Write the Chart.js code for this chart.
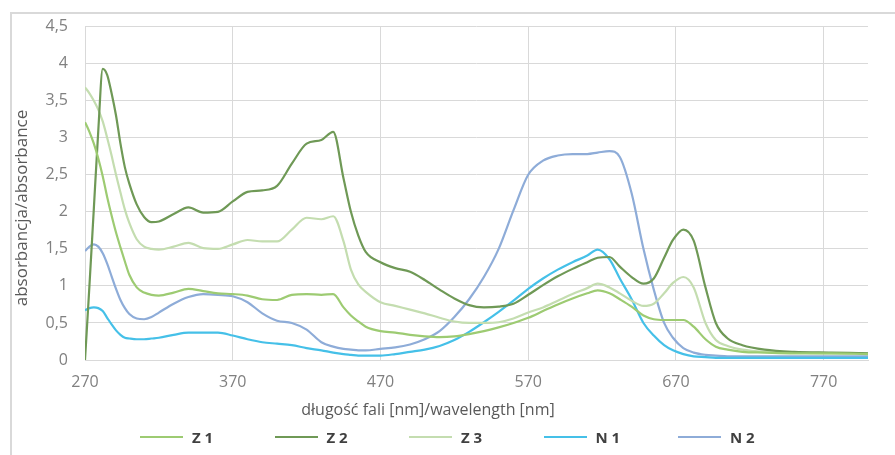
<!DOCTYPE html>
<html>
<head>
<meta charset="utf-8">
<script src="https://cdn.jsdelivr.net/npm/chart.js@4.4.1/dist/chart.umd.min.js"></script>
<style>
    html, body { margin: 0; padding: 0; background: #fff; }
    #wrap { position: relative; width: 895px; height: 455px; overflow: hidden; }
    #frame {
        position: absolute; left: 10px; top: 12px; width: 900px; height: 460px;
        border-top: 2px solid #d9d9d9; border-left: 2px solid #d9d9d9;
    }
    #chart { position: absolute; left: 0; top: 0; }
    .item {
        position: absolute; top: 428px; height: 18px;
        display: flex; align-items: center;
        font: bold 15px "Open Sans", sans-serif; color: #404040;
        white-space: nowrap;
    }
    .item i { display: inline-block; width: 43px; height: 2px; margin-right: 9px; }
</style>
</head>
<body>
<div id="wrap">
    <div id="frame"></div>
    <canvas id="chart" width="895" height="455"></canvas>
    <div id="legend"></div>
</div>
<script>
// wavelength grid (nm)
const wavelengths = [270, 273, 276, 279, 282, 285, 288, 291, 294, 297, 300, 305, 310, 315, 320,
    330, 340, 350, 360, 370, 380, 390, 400, 410, 420, 430, 438, 445, 450, 455, 460,
    470, 480, 490, 500, 510, 520, 530, 540, 550, 560, 570, 580, 590, 600, 610,
    617, 625, 632, 640, 648, 655, 662, 668, 675, 682, 690, 697, 705, 715, 730, 750, 775, 800];

const z1 = [3.21, 3.08, 2.92, 2.72, 2.48, 2.20, 1.95, 1.72, 1.52, 1.33, 1.15, 0.98, 0.91, 0.88, 0.87,
    0.91, 0.96, 0.93, 0.90, 0.89, 0.87, 0.82, 0.81, 0.88, 0.89, 0.88, 0.89, 0.71, 0.60, 0.52, 0.45,
    0.39, 0.37, 0.34, 0.32, 0.31, 0.32, 0.35, 0.39, 0.44, 0.50, 0.57, 0.66, 0.75, 0.83, 0.90,
    0.94, 0.90, 0.82, 0.72, 0.60, 0.55, 0.54, 0.54, 0.54, 0.45, 0.28, 0.18, 0.14, 0.11, 0.10, 0.09, 0.09, 0.08];

const z2 = [0.00, 1.00, 2.05, 3.10, 3.93, 3.85, 3.60, 3.30, 2.92, 2.60, 2.38, 2.10, 1.93, 1.86, 1.87,
    1.97, 2.06, 1.99, 2.00, 2.14, 2.27, 2.29, 2.35, 2.65, 2.92, 2.97, 3.08, 2.45, 2.00, 1.68, 1.46,
    1.32, 1.24, 1.19, 1.08, 0.95, 0.83, 0.74, 0.71, 0.72, 0.76, 0.88, 1.01, 1.13, 1.23, 1.32,
    1.38, 1.39, 1.26, 1.12, 1.03, 1.10, 1.38, 1.62, 1.76, 1.61, 0.98, 0.50, 0.29, 0.20, 0.14, 0.11, 0.10, 0.09];

const z3 = [3.68, 3.60, 3.50, 3.38, 3.22, 3.00, 2.76, 2.50, 2.26, 2.03, 1.85, 1.63, 1.53, 1.50, 1.49,
    1.53, 1.58, 1.51, 1.50, 1.56, 1.62, 1.60, 1.60, 1.76, 1.92, 1.90, 1.94, 1.60, 1.22, 1.02, 0.92,
    0.78, 0.73, 0.68, 0.63, 0.57, 0.52, 0.50, 0.50, 0.51, 0.56, 0.64, 0.71, 0.80, 0.89, 0.97,
    1.03, 0.98, 0.90, 0.80, 0.73, 0.76, 0.90, 1.04, 1.12, 0.98, 0.50, 0.27, 0.19, 0.14, 0.11, 0.10, 0.09, 0.09];

const n1 = [0.67, 0.70, 0.71, 0.70, 0.66, 0.57, 0.48, 0.40, 0.34, 0.30, 0.29, 0.28, 0.28, 0.29, 0.30,
    0.34, 0.37, 0.37, 0.37, 0.33, 0.28, 0.24, 0.22, 0.20, 0.16, 0.13, 0.10, 0.08, 0.07, 0.06, 0.06,
    0.06, 0.08, 0.11, 0.14, 0.19, 0.27, 0.38, 0.51, 0.65, 0.80, 0.96, 1.10, 1.22, 1.32, 1.41,
    1.49, 1.36, 1.10, 0.82, 0.50, 0.33, 0.20, 0.13, 0.08, 0.05, 0.04, 0.03, 0.03, 0.03, 0.03, 0.03, 0.03, 0.03];

const n2 = [1.47, 1.53, 1.56, 1.53, 1.44, 1.30, 1.13, 0.96, 0.81, 0.70, 0.62, 0.56, 0.55, 0.58, 0.64,
    0.76, 0.85, 0.89, 0.88, 0.86, 0.78, 0.63, 0.53, 0.50, 0.41, 0.24, 0.18, 0.15, 0.14, 0.13, 0.13,
    0.15, 0.17, 0.21, 0.28, 0.39, 0.58, 0.82, 1.12, 1.50, 2.02, 2.50, 2.69, 2.76, 2.78, 2.78,
    2.80, 2.82, 2.74, 2.25, 1.50, 0.95, 0.50, 0.30, 0.16, 0.10, 0.07, 0.06, 0.05, 0.05, 0.05, 0.05, 0.05, 0.05];

const seriesNames = ['Z 1', 'Z 2', 'Z 3', 'N 1', 'N 2'];
const seriesValues = [z1, z2, z3, n1, n2];
const seriesColors = ['#9dcb72', '#6f9956', '#c4ddb0', '#45c0e8', '#8eacd8'];

const xTicks = [270, 370, 470, 570, 670, 770];
const xTitle = 'długość fali [nm]/wavelength [nm]';
const yTitle = 'absorbancja/absorbance';

const FONT = '"Open Sans", sans-serif';

// axis titles drawn by hand so they can sit off-centre like the original
const axisTitles = {
    id: 'axisTitles',
    afterDraw(chart) {
        const ctx = chart.ctx;
        ctx.save();
        ctx.fillStyle = '#595959';
        ctx.font = '16px ' + FONT;
        ctx.textAlign = 'center';
        ctx.textBaseline = 'middle';
        ctx.fillText(xTitle, 428, 410);
        ctx.translate(22, 208);
        ctx.rotate(-Math.PI / 2);
        ctx.font = '17px ' + FONT;
        ctx.fillText(yTitle, 0, 0);
        ctx.restore();
    }
};

new Chart(document.getElementById('chart'), {
    type: 'line',
    data: {
        datasets: seriesValues.map((vals, i) => ({
            label: seriesNames[i],
            data: vals.map((v, j) => ({ x: wavelengths[j], y: v })),
            borderColor: seriesColors[i],
            backgroundColor: seriesColors[i],
            borderWidth: 2.2,
            pointRadius: 0,
            cubicInterpolationMode: 'monotone',
            fill: false
        }))
    },
    options: {
        responsive: false,
        animation: false,
        layout: { padding: { left: 12, right: 27, top: 24, bottom: 0 } },
        plugins: {
            legend: { display: false },
            tooltip: { enabled: false }
        },
        scales: {
            x: {
                type: 'linear',
                min: 270,
                max: 800,
                afterBuildTicks: scale => { scale.ticks = xTicks.map(v => ({ value: v })); },
                afterFit: scale => { scale.height = 95; },
                grid: { color: '#d9d9d9', drawTicks: false },
                border: { color: '#d9d9d9' },
                ticks: {
                    color: '#808080',
                    font: { family: FONT, size: 16 },
                    padding: 13,
                    autoSkip: false,
                    maxRotation: 0
                }
            },
            y: {
                min: 0,
                max: 4.5,
                afterFit: scale => { scale.width = 73; },
                grid: { color: '#d9d9d9', drawTicks: false },
                border: { display: false },
                ticks: {
                    stepSize: 0.5,
                    color: '#808080',
                    font: { family: FONT, size: 16 },
                    padding: 17,
                    callback: v => String(v).replace('.', ',')
                }
            }
        }
    },
    plugins: [axisTitles]
});

// legend as plain html under the canvas
const legend = document.getElementById('legend');
seriesNames.forEach((name, i) => {
    const item = document.createElement('div');
    item.className = 'item';
    item.style.left = (140 + i * 134.5) + 'px';
    const line = document.createElement('i');
    line.style.background = seriesColors[i];
    item.appendChild(line);
    item.appendChild(document.createTextNode(name));
    legend.appendChild(item);
});
</script>
</body>
</html>
